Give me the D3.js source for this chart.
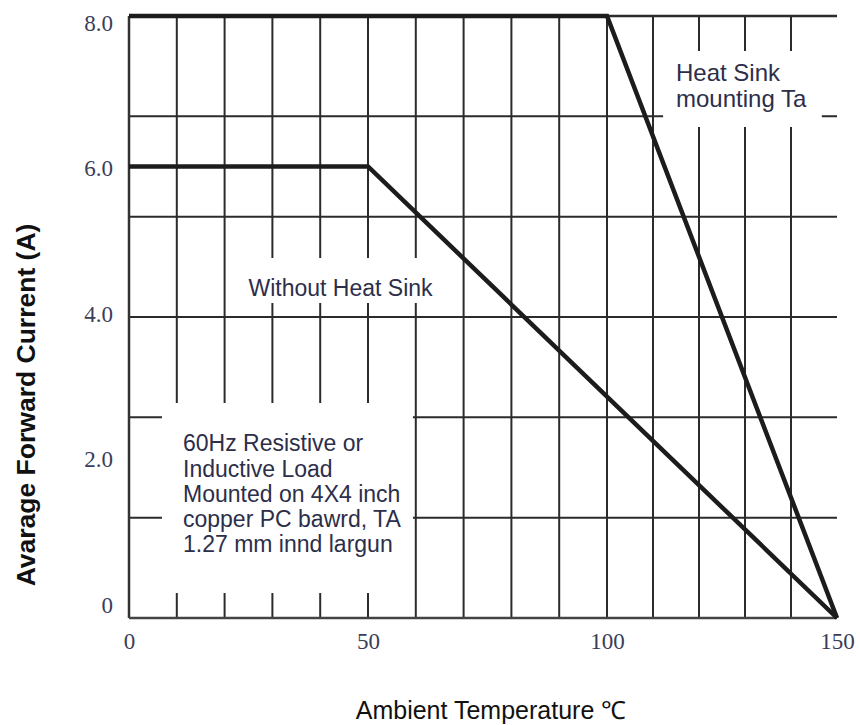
<!DOCTYPE html>
<html><head><meta charset="utf-8">
<script src="https://cdn.jsdelivr.net/npm/d3@7/dist/d3.min.js"></script>
<style>body{margin:0;background:#fff}svg{display:block}</style>
</head><body>
<svg id="chart" width="860" height="725"></svg>
<script>
// ---- data ----
const heatSinkTemp = [0, 100, 150];
const heatSinkCurrent = [8, 8, 0];
const noSinkTemp = [0, 50, 150];
const noSinkCurrent = [6, 6, 0];
const xTickValues = [0, 50, 100, 150];
const xTickLabels = ["0", "50", "100", "150"];
const yTickValues = [0, 2, 4, 6, 8];
const yTickLabels = ["0", "2.0", "4.0", "6.0", "8.0"];
const xGridValues = [10, 20, 30, 40, 50, 60, 70, 80, 90, 100, 110, 120, 130, 140];
const yGridValues = [4/3, 8/3, 4, 16/3, 20/3, 8];
const noteLines1 = ["Heat Sink", "mounting Ta"];
const noteLines2 = ["Without Heat Sink"];
const noteLines3 = ["60Hz Resistive or", "Inductive Load", "Mounted on 4X4 inch", "copper PC bawrd, TA", "1.27 mm innd largun"];
const xTitle = "Ambient Temperature \u2103";
const yTitle = "Avarage Forward Current (A)";

// ---- scales ----
const x = d3.scaleLinear().domain([0, 50, 100, 150]).range([129, 368, 607, 837]);
const y = d3.scaleLinear().domain([0, 8]).range([618, 16]);
const yLab = d3.scaleLinear().domain([0, 8]).range([605, 23]);

const svg = d3.select("#chart");
const gridColor = "#2b2b2b";

// grid
svg.append("g").selectAll("line.v").data(xGridValues).join("line")
  .attr("x1", d => x(d)).attr("x2", d => x(d))
  .attr("y1", y(0)).attr("y2", y(8))
  .attr("stroke", gridColor).attr("stroke-width", 2);
svg.append("g").selectAll("line.h").data(yGridValues).join("line")
  .attr("x1", x(0)).attr("x2", x(150))
  .attr("y1", d => y(d)).attr("y2", d => y(d))
  .attr("stroke", gridColor).attr("stroke-width", d => d === 8 ? 2.6 : 2);

// annotation boxes (white background interrupting grid), in data units
const boxes = [
  {x0: 112.2, x1: 146.7, y0: 7.535, y1: 6.525, lines: noteLines1, tx: 115, ty: 7.13, lh: 26, fs: 24},
  {x0: 24.3, x1: 66.1, y0: 4.784, y1: 4.186, lines: noteLines2, tx: 25.0, ty: 4.28, lh: 25, fs: 23},
  {x0: 6.9, x1: 59.4, y0: 2.857, y1: 0.332, lines: noteLines3, tx: 11.3, ty: 2.215, lh: 25.2, fs: 23}
];
svg.append("g").selectAll("rect").data(boxes).join("rect")
  .attr("x", d => x(d.x0)).attr("width", d => x(d.x1) - x(d.x0))
  .attr("y", d => y(d.y0)).attr("height", d => y(d.y1) - y(d.y0))
  .attr("fill", "#fff");

// axis lines
svg.append("line").attr("x1", x(0)).attr("x2", x(0)).attr("y1", y(0)).attr("y2", y(8))
  .attr("stroke", "#333").attr("stroke-width", 2.5);
svg.append("line").attr("x1", x(0)).attr("x2", x(150)).attr("y1", y(0)).attr("y2", y(0))
  .attr("stroke", "#444").attr("stroke-width", 2.5);

// data lines
const line = d3.line().x(d => x(d[0])).y(d => y(d[1]));
const series = [
  d3.zip(heatSinkTemp, heatSinkCurrent),
  d3.zip(noSinkTemp, noSinkCurrent)
];
svg.append("g").selectAll("path").data(series).join("path")
  .attr("d", line).attr("fill", "none")
  .attr("stroke", "#1c1c1c").attr("stroke-width", 4.5)
  .attr("stroke-linejoin", "miter");

// tick labels via axes
const labColor = "#3a3d58";
const xAxis = d3.axisBottom(x).tickValues(xTickValues).tickSize(0).tickPadding(0)
  .tickFormat((d, i) => xTickLabels[i]);
const gx = svg.append("g").attr("transform", `translate(0,${y(0) + 31})`).call(xAxis);
gx.select(".domain").remove();
gx.selectAll("text").attr("font-family", "'Liberation Serif', 'Times New Roman', serif")
  .attr("font-size", 23).attr("fill", labColor).attr("dy", "0");

const yAxis = d3.axisLeft(yLab).tickValues(yTickValues).tickSize(0).tickPadding(0)
  .tickFormat((d, i) => yTickLabels[i]);
const gy = svg.append("g").attr("transform", `translate(${x(0) - 16},0)`).call(yAxis);
gy.select(".domain").remove();
gy.selectAll("text").attr("font-family", "'Liberation Serif', 'Times New Roman', serif")
  .attr("font-size", 23).attr("fill", labColor);

// annotation text
const noteColor = "#2c2e4a";
boxes.forEach(b => {
  const t = svg.append("text")
    .attr("font-family", "'Liberation Sans', Arial, sans-serif")
    .attr("font-size", b.fs).attr("fill", noteColor);
  b.lines.forEach((s, i) => {
    t.append("tspan").attr("x", x(b.tx)).attr("y", y(b.ty) + i * b.lh).text(s);
  });
});

// axis titles
svg.append("text").attr("x", 491).attr("y", 719).attr("text-anchor", "middle")
  .attr("font-family", "'Liberation Sans', Arial, sans-serif").attr("font-size", 25)
  .attr("fill", "#111").text(xTitle);
svg.append("text").attr("transform", "translate(35,405) rotate(-90)").attr("text-anchor", "middle")
  .attr("font-family", "'Liberation Sans', Arial, sans-serif").attr("font-size", 26.5)
  .attr("font-weight", "bold").attr("fill", "#111").text(yTitle);
</script>
</body></html>
